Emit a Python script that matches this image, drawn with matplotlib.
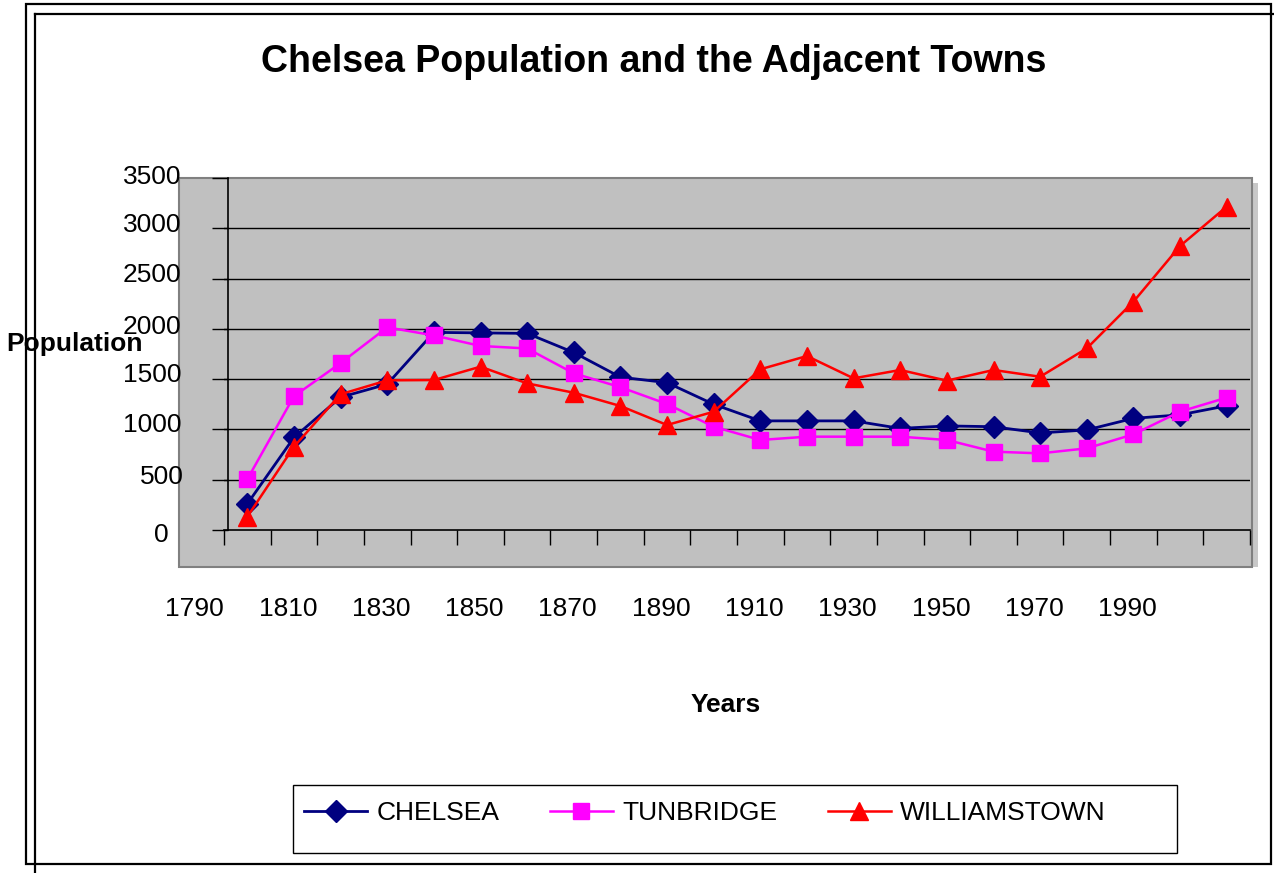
import matplotlib
matplotlib.use("Agg")
import matplotlib.pyplot as plt
from matplotlib.patches import Rectangle
from matplotlib.lines import Line2D
from matplotlib.transforms import ScaledTranslation

# ---- data ----
years = [1790, 1800, 1810, 1820, 1830, 1840, 1850, 1860, 1870, 1880, 1890,
         1900, 1910, 1920, 1930, 1940, 1950, 1960, 1970, 1980, 1990, 2000]
chelsea = [260, 920, 1320, 1450, 1965, 1960, 1955, 1765, 1520, 1465, 1250,
           1085, 1085, 1085, 1010, 1035, 1027, 965, 995, 1110, 1145, 1235]
tunbridge = [505, 1330, 1660, 2015, 1935, 1830, 1805, 1558, 1420, 1253, 1027,
             895, 928, 928, 928, 895, 779, 762, 812, 951, 1177, 1316]
williamstown = [132, 828, 1350, 1488, 1491, 1624, 1458, 1365, 1233, 1044, 1176,
                1598, 1730, 1508, 1591, 1485, 1591, 1524, 1806, 2270, 2824, 3215]
series_names = ["CHELSEA", "TUNBRIDGE", "WILLIAMSTOWN"]
y_ticks = [0, 500, 1000, 1500, 2000, 2500, 3000, 3500]
x_labels = [str(y) for y in years[0::2]]

plt.rcParams['font.family'] = ['Liberation Sans', 'DejaVu Sans']

W, H = 1274, 873
fig = plt.figure(figsize=(W / 100, H / 100), dpi=100)


def fx(px):
    return px / W


def fy(py):
    return 1 - py / H


# outer frames
fig.add_artist(Rectangle((fx(26), fy(864)), fx(1271) - fx(26), fy(4) - fy(864),
                         transform=fig.transFigure, fill=False, edgecolor='black',
                         lw=1.6, zorder=-3))
fig.add_artist(Line2D([fx(35), fx(35)], [fy(14), fy(873)], transform=fig.transFigure,
                      color='black', lw=1.6, zorder=-3))
fig.add_artist(Line2D([fx(35), fx(1274)], [fy(14), fy(14)], transform=fig.transFigure,
                      color='black', lw=1.6, zorder=-3))

# gray wall (3D-like backdrop)
fig.add_artist(Rectangle((fx(1252), fy(567)), fx(1258) - fx(1252), fy(183) - fy(567),
                         transform=fig.transFigure, facecolor='#C8C8C8', edgecolor='none',
                         zorder=-2))
fig.add_artist(Rectangle((fx(179), fy(567)), fx(1252) - fx(179), fy(178) - fy(567),
                         transform=fig.transFigure, facecolor='#C0C0C0', edgecolor='#808080',
                         lw=1.5, zorder=-1))

ax = fig.add_axes([fx(224), fy(530), fx(1250) - fx(224), fy(178) - fy(530)])
ax.patch.set_alpha(0)

xs = list(range(len(years)))
ax.plot(xs, chelsea, color='#000080', lw=2.0, marker='D', ms=11.5,
        markerfacecolor='#000080', markeredgecolor='#000080', label=series_names[0],
        zorder=3, clip_on=False)
ax.plot(xs, tunbridge, color='#FF00FF', lw=1.8, marker='s', ms=11,
        markerfacecolor='#FF00FF', markeredgecolor='#FF00FF', label=series_names[1],
        zorder=4, clip_on=False)
ax.plot(xs, williamstown, color='#FF0000', lw=1.8, marker='^', ms=12.5,
        markerfacecolor='#FF0000', markeredgecolor='#FF0000', label=series_names[2],
        zorder=5, clip_on=False)

ax.set_xlim(-0.5, len(years) - 0.5)
ax.set_ylim(0, 3500)

for s in ['top', 'right']:
    ax.spines[s].set_visible(False)
ax.spines['left'].set_position(('outward', -3))
ax.spines['left'].set_color('black')
ax.spines['bottom'].set_color('black')
ax.spines['left'].set_linewidth(1.2)
ax.spines['bottom'].set_linewidth(1.2)

# y axis
ax.set_yticks(y_ticks)
ax.set_yticklabels([str(v) for v in y_ticks], fontsize=19)
ax.tick_params(axis='y', direction='out', length=11.5, width=1.0, pad=22, color='black')
ax.yaxis.grid(True, color='black', lw=1.0)
ax.set_axisbelow(True)
ax.get_ygridlines()[-1].set_visible(False)
ax.get_ygridlines()[0].set_visible(False)
y_off_px = [(-13, 3), (2, -5), (0, -7), (0, -7), (0, -4), (0, -6), (0, -6), (0, -3)]
for lab, (dx, dy) in zip(ax.get_yticklabels(), y_off_px):
    lab.set_transform(lab.get_transform() + ScaledTranslation(dx / 100, -dy / 100, fig.dpi_scale_trans))

# x axis: category boundaries as tick marks, labels every 2 categories (shifted like original)
ax.set_xticks([i - 0.5 for i in range(len(years) + 1)], minor=True)
ax.tick_params(axis='x', which='minor', direction='out', length=10.5, width=1.0, color='black')
ax.set_xticks(xs[0::2])
ax.set_xticklabels(x_labels, fontsize=19)
ax.tick_params(axis='x', which='major', length=0, pad=48)
for lab in ax.get_xticklabels():
    lab.set_transform(lab.get_transform() + ScaledTranslation(-52.6 / 100, 0, fig.dpi_scale_trans))

# titles
fig.text(fx(654), fy(62), "Chelsea Population and the Adjacent Towns", fontsize=27,
         fontweight='bold', ha='center', va='center')
fig.text(fx(6), fy(344), "Population", fontsize=19, fontweight='bold', ha='left', va='center')
fig.text(fx(726), fy(705), "Years", fontsize=19, fontweight='bold', ha='center', va='center')

# legend
fig.add_artist(Rectangle((fx(293), fy(853)), fx(1177) - fx(293), fy(785) - fy(853),
                         transform=fig.transFigure, fill=False, edgecolor='black', lw=1.0))
ax.legend(loc='center left', bbox_to_anchor=(fx(304), fy(813)), bbox_transform=fig.transFigure,
          ncol=3, frameon=False, fontsize=19, handlelength=2.4, handletextpad=0.35,
          columnspacing=1.9, borderpad=0, borderaxespad=0, numpoints=1)

fig.savefig("out.png", dpi=100)
